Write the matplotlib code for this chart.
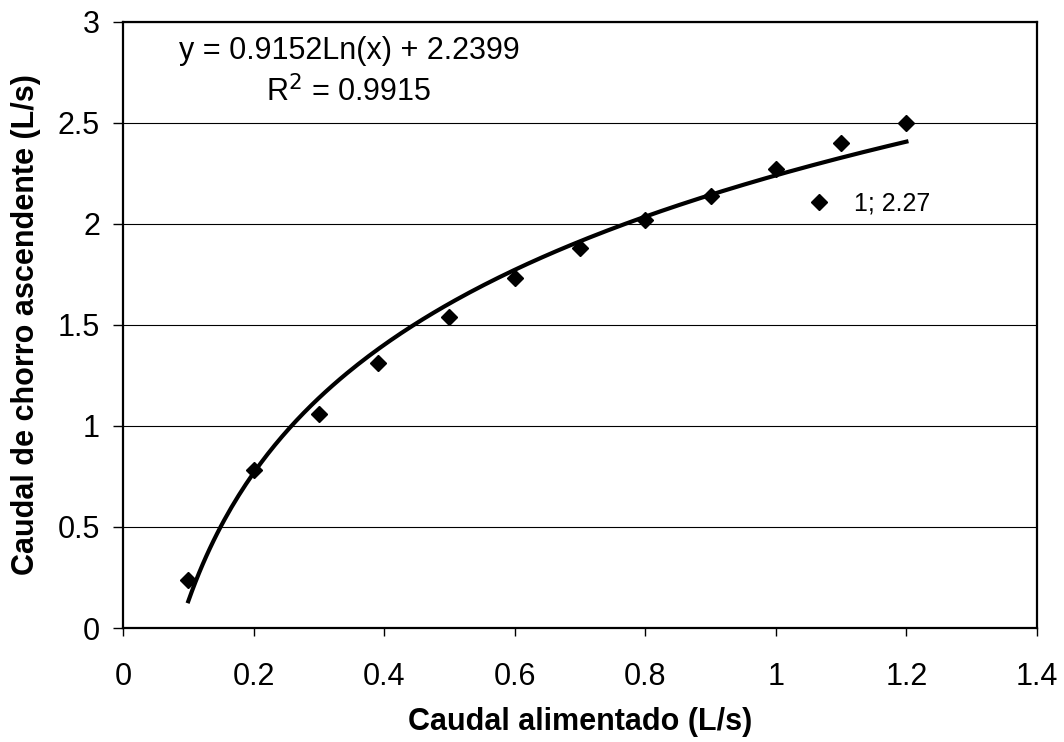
import numpy as np
import matplotlib
matplotlib.use("Agg")
from matplotlib import pyplot as plt

plt.rcParams['font.family'] = ['Liberation Sans', 'DejaVu Sans']

# measured points
caudal_alim = [0.1, 0.2, 0.3, 0.39, 0.5, 0.6, 0.7, 0.8, 0.9, 1.0, 1.1, 1.2]
caudal_chorro = [0.24, 0.78, 1.06, 1.31, 1.54, 1.73, 1.88, 2.02, 2.14, 2.27, 2.40, 2.50]

# logarithmic trend line shown on the chart
coef_a = 0.9152
coef_b = 2.2399
r2 = 0.9915

x_ticks = [0, 0.2, 0.4, 0.6, 0.8, 1, 1.2, 1.4]
y_ticks = [0, 0.5, 1, 1.5, 2, 2.5, 3]

fig = plt.figure(figsize=(10.64, 7.42), dpi=100)
ax = fig.add_axes([0.1156, 0.1536, 0.8590, 0.8171])

xt = np.linspace(min(caudal_alim), max(caudal_alim), 200)
ax.plot(xt, coef_a * np.log(xt) + coef_b, color='black', lw=3, zorder=3)
ax.plot(caudal_alim, caudal_chorro, 'D', color='black', ms=7.8, mew=1, ls='none',
        label='1; 2.27', zorder=4)

ax.set_xlim(0, 1.4)
ax.set_ylim(0, 3)
ax.set_xticks(x_ticks)
ax.set_xticklabels(['0', '0.2', '0.4', '0.6', '0.8', '1', '1.2', '1.4'])
ax.set_yticks(y_ticks)
ax.set_yticklabels(['0', '0.5', '1', '1.5', '2', '2.5', '3'])
ax.yaxis.grid(True, color='black', lw=0.8)
ax.set_axisbelow(True)
for s in ax.spines.values():
    s.set_linewidth(1.6)
ax.tick_params(axis='x', direction='out', length=6, width=1, labelsize=22, pad=18.5)
ax.tick_params(axis='y', direction='out', length=7, width=1, labelsize=22, pad=9.5)

ax.set_xlabel('Caudal alimentado (L/s)', fontsize=22, fontweight='bold', labelpad=11)
ax.set_ylabel('Caudal de chorro ascendente (L/s)', fontsize=22, fontweight='bold', labelpad=12)

ax.text(0.3464, 2.817, 'y = %.4fLn(x) + %.4f' % (coef_a, coef_b), fontsize=22,
        ha='center', va='baseline')
ax.text(0.346, 2.607, 'R$^2$ = %.4f' % r2, fontsize=22, ha='center', va='baseline')

ax.legend(loc='center left', bbox_to_anchor=(0.748, 0.700), frameon=False,
          fontsize=18, handletextpad=0.9, borderpad=0, borderaxespad=0,
          handlelength=1)

fig.savefig('out.png', dpi=100)
